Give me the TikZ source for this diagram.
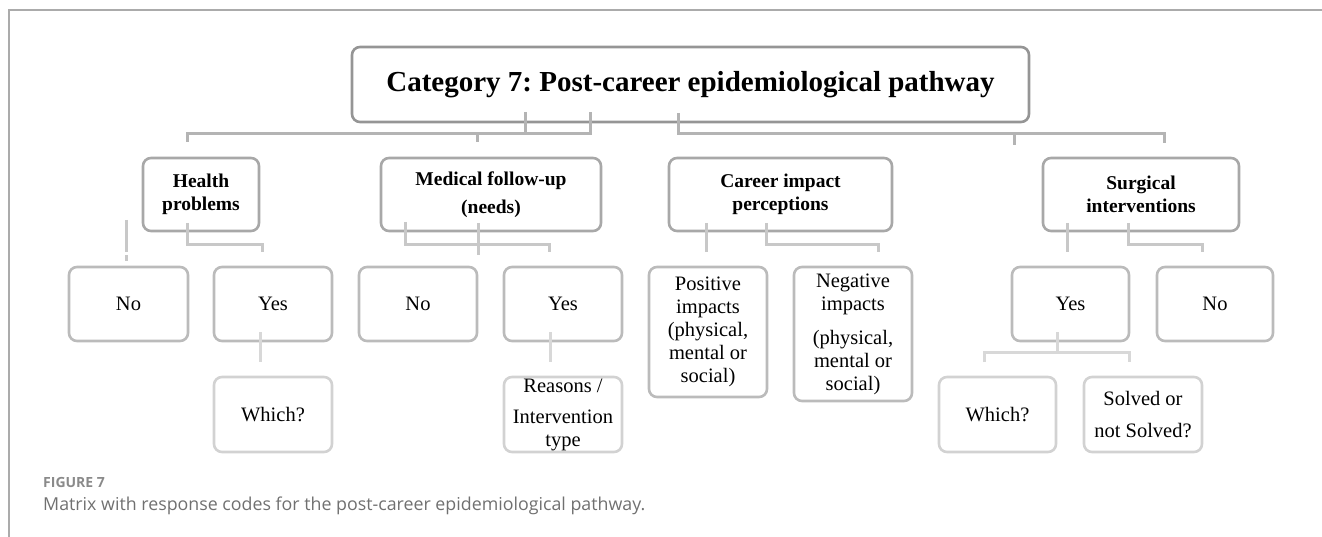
\documentclass[tikz,border=0pt]{standalone}
\usepackage{fontspec}
\setmainfont{Liberation Serif}
\newfontfamily\capfont{Open Sans}
\newcommand\palf{\rmfamily\frenchspacing}
\definecolor{ctitle}{HTML}{959595}
\definecolor{clvtwo}{HTML}{A8A8A8}
\definecolor{clvthree}{HTML}{BBBBBB}
\definecolor{clvfour}{HTML}{D2D2D2}
\definecolor{conone}{HTML}{B4B4B4}
\definecolor{contwo}{HTML}{C8C8C8}
\definecolor{conthree}{HTML}{D8D8D8}
\definecolor{frame}{HTML}{ABABAB}
\definecolor{capgray}{HTML}{8A8A8A}
\definecolor{captext}{HTML}{707070}
\tikzset{
  box/.style={draw, rounded corners=8pt, line width=2.6pt, align=center, inner sep=0pt, text=black},
  titlebox/.style={box, draw=ctitle, font=\palf\bfseries\fontsize{29}{34}\selectfont},
  lvtwo/.style={box, draw=clvtwo, minimum height=73pt, font=\palf\bfseries\fontsize{19.5}{23}\selectfont},
  lvthree/.style={box, draw=clvthree, minimum height=74pt, font=\palf\fontsize{20.5}{23}\selectfont},
  lvfour/.style={box, draw=clvfour, minimum height=75pt, font=\palf\fontsize{20.5}{23}\selectfont},
  conA/.style={draw=conone, line width=3pt},
  conB/.style={draw=contwo, line width=3pt},
  conC/.style={draw=conthree, line width=3pt},
}
\begin{document}
\begin{tikzpicture}[x=1pt,y=-1pt]
\useasboundingbox (0,0) rectangle (1322,537);
% frame
\draw[frame, line width=1.5pt] (9,537) -- (9,10) -- (1322,10);
% title
\node[titlebox, minimum width=677pt, minimum height=75pt] (title) at (690.5,84.5) {Category 7: Post-career epidemiological pathway};
% level 2
\node[lvtwo, minimum width=116pt] (health) at (201,194.5) {Health\\problems};
\node[lvtwo, minimum width=220pt] (medical) at (491,194.5) {Medical follow-up\\[5pt](needs)};
\node[lvtwo, minimum width=223pt] (career) at (780.5,194.5) {Career impact\\perceptions};
\node[lvtwo, minimum width=196pt] (surgical) at (1141,194.5) {Surgical\\interventions};
% level 3
\node[lvthree, minimum width=119pt] (noA) at (128.5,304) {No};
\node[lvthree, minimum width=118pt] (yesA) at (273,304) {Yes};
\node[lvthree, minimum width=118pt] (noB) at (418,304) {No};
\node[lvthree, minimum width=118pt] (yesB) at (563,304) {Yes};
\node[lvthree, minimum width=118pt, minimum height=130pt] (pos) at (708,332) {Positive\\impacts\\(physical,\\mental or\\social)};
\node[lvthree, minimum width=118pt, minimum height=134pt] (neg) at (853,334) {Negative\\impacts\\[11pt](physical,\\mental or\\social)};
\node[lvthree, minimum width=117pt] (yesC) at (1070.5,304) {Yes};
\node[lvthree, minimum width=116pt] (noC) at (1215,304) {No};
% level 4
\node[lvfour, minimum width=118pt] (whichA) at (273,414.5) {Which?};
\node[lvfour, minimum width=118pt] (reasons) at (563,414.5) {Reasons /\\[8pt]Intervention\\type};
\node[lvfour, minimum width=117pt] (whichC) at (997.5,414.5) {Which?};
\node[lvfour, minimum width=118pt] (solved) at (1143,414.5) {Solved or\\[9pt]not Solved?};
% title connectors
\coordinate (t1) at (525,112); \coordinate (t2) at (590,112);
\coordinate (j1) at (525,134); \coordinate (j2) at (590,134);
\coordinate (h0) at (187,134); \coordinate (h1) at (187,142);
\coordinate (m0) at (477,134); \coordinate (m1) at (477,142);
\draw[conA] (t1) -- (j1);
\draw[conA] (h1) -- (h0) -- (j2) -- (t2);
\draw[conA] (m0) -- (m1);
\coordinate (t3) at (678,113); \coordinate (j3) at (678,134);
\coordinate (s0) at (1164,134); \coordinate (s1) at (1164,143);
\coordinate (c0) at (1014,134); \coordinate (c1) at (1014,145);
\draw[conA] (t3) -- (j3) -- (s0) -- (s1);
\draw[conA] (c0) -- (c1);
% level 2 connectors
\coordinate (a1) at (126,220); \coordinate (a2) at (126,252);
\coordinate (a3) at (126,255); \coordinate (a4) at (126,261);
\draw[conB] (a1) -- (a2);
\draw[conB] (a3) -- (a4);
\coordinate (b1) at (187,223); \coordinate (b2) at (187,245);
\coordinate (b3) at (262,245); \coordinate (b4) at (262,252);
\draw[conB] (b1) -- (b2) -- (b3) -- (b4);
\coordinate (d1) at (405,222); \coordinate (d2) at (405,245);
\coordinate (d3) at (549,245); \coordinate (d4) at (549,252);
\draw[conB] (d1) -- (d2) -- (d3) -- (d4);
\coordinate (e1) at (478,223); \coordinate (e2) at (478,255);
\draw[conB] (e1) -- (e2);
\coordinate (f1) at (706,223); \coordinate (f2) at (706,252);
\draw[conB] (f1) -- (f2);
\coordinate (g1) at (766,223); \coordinate (g2) at (766,245);
\coordinate (g3) at (878,245); \coordinate (g4) at (878,252);
\draw[conB] (g1) -- (g2) -- (g3) -- (g4);
\coordinate (k1) at (1067,223); \coordinate (k2) at (1067,252);
\draw[conB] (k1) -- (k2);
\coordinate (l1) at (1128,223); \coordinate (l2) at (1128,245);
\coordinate (l3) at (1202,245); \coordinate (l4) at (1202,252);
\draw[conB] (l1) -- (l2) -- (l3) -- (l4);
% level 3 connectors
\coordinate (p1) at (260,332); \coordinate (p2) at (260,362);
\draw[conC] (p1) -- (p2);
\coordinate (q1) at (550,332); \coordinate (q2) at (550,362);
\draw[conC] (q1) -- (q2);
\coordinate (r1) at (1057,332); \coordinate (r2) at (1057,352);
\coordinate (r3) at (984,362); \coordinate (r4) at (984,352);
\coordinate (r5) at (1129,352); \coordinate (r6) at (1129,362);
\draw[conC] (r1) -- (r2);
\draw[conC] (r3) -- (r4) -- (r5) -- (r6);
% caption
\node[anchor=west, inner sep=0pt, text=capgray, font=\capfont\bfseries\fontsize{14}{16}\selectfont] (figlabel) at (43,482) {FIGURE 7};
\node[anchor=west, inner sep=0pt, text=captext, font=\capfont\fontsize{17.8}{20}\selectfont] (caption) at (43,506) {Matrix with response codes for the post-career epidemiological pathway.};
\end{tikzpicture}
\end{document}
